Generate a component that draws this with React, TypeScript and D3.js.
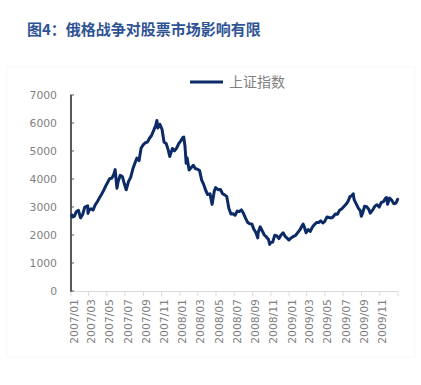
import React from "react";
import * as d3 from "d3";

const TITLE = "图4：俄格战争对股票市场影响有限";
const SERIES_NAME = "上证指数";
const Y_TICKS = [0, 1000, 2000, 3000, 4000, 5000, 6000, 7000];

const dates2007 = ["2007-01-04","2007-01-05","2007-01-12","2007-01-19","2007-01-26","2007-02-02","2007-02-09","2007-02-16","2007-02-26","2007-02-27","2007-03-02","2007-03-09","2007-03-16","2007-03-23","2007-03-30","2007-04-06","2007-04-13","2007-04-20","2007-04-27","2007-05-11","2007-05-18","2007-05-25","2007-05-29","2007-06-01","2007-06-04","2007-06-08","2007-06-15","2007-06-22","2007-06-29","2007-07-05","2007-07-13","2007-07-20","2007-07-27","2007-08-03","2007-08-10","2007-08-17","2007-08-24","2007-08-31","2007-09-07","2007-09-14","2007-09-21","2007-09-28","2007-10-12","2007-10-16","2007-10-19","2007-10-26","2007-11-02","2007-11-09","2007-11-16","2007-11-23","2007-11-28","2007-11-30","2007-12-07","2007-12-14","2007-12-21","2007-12-28"];
const values2007 = [2715,2641,2668,2833,2882,2612,2730,2998,3040,2771,2881,2937,2891,3071,3183,3323,3444,3584,3741,4021,4030,4181,4335,4000,3670,3913,4132,4091,3820,3615,3915,4058,4345,4560,4749,4656,5107,5219,5293,5317,5456,5552,5913,6092,5818,5955,5777,5316,5269,5032,4803,4871,5091,5007,5101,5261];

const dates2008 = ["2008-01-04","2008-01-11","2008-01-14","2008-01-18","2008-01-22","2008-01-25","2008-02-01","2008-02-15","2008-02-22","2008-02-29","2008-03-07","2008-03-14","2008-03-21","2008-03-28","2008-04-03","2008-04-11","2008-04-18","2008-04-25","2008-04-30","2008-05-09","2008-05-16","2008-05-23","2008-05-30","2008-06-06","2008-06-13","2008-06-20","2008-06-27","2008-07-04","2008-07-11","2008-07-18","2008-07-25","2008-08-01","2008-08-08","2008-08-15","2008-08-22","2008-08-29","2008-09-05","2008-09-12","2008-09-18","2008-09-19","2008-09-26","2008-10-10","2008-10-17","2008-10-24","2008-10-28","2008-10-31","2008-11-07","2008-11-14","2008-11-21","2008-11-28","2008-12-05","2008-12-12","2008-12-19","2008-12-26","2008-12-31"];
const values2008 = [5362,5485,5497,5180,4560,4761,4320,4490,4370,4348,4300,3962,3796,3580,3446,3470,3094,3557,3693,3614,3624,3474,3433,3379,2957,2748,2760,2704,2855,2836,2896,2775,2605,2450,2405,2397,2202,2079,1895,2075,2293,2000,1930,1840,1664,1728,1747,1994,1970,1871,2001,2078,1947,1880,1821];

const dates2009 = ["2009-01-09","2009-01-16","2009-01-23","2009-02-06","2009-02-13","2009-02-17","2009-02-20","2009-02-27","2009-03-06","2009-03-13","2009-03-20","2009-03-27","2009-04-03","2009-04-10","2009-04-17","2009-04-24","2009-04-30","2009-05-08","2009-05-15","2009-05-22","2009-05-27","2009-06-05","2009-06-12","2009-06-19","2009-06-26","2009-07-03","2009-07-10","2009-07-17","2009-07-24","2009-07-31","2009-08-04","2009-08-07","2009-08-14","2009-08-21","2009-08-28","2009-08-31","2009-09-04","2009-09-11","2009-09-18","2009-09-25","2009-09-30","2009-10-09","2009-10-16","2009-10-23","2009-10-30","2009-11-06","2009-11-13","2009-11-20","2009-11-24","2009-11-27","2009-12-04","2009-12-11","2009-12-18","2009-12-25","2009-12-31"];
const values2009 = [1904,1954,1990,2181,2320,2389,2320,2082,2193,2128,2281,2374,2444,2445,2503,2429,2477,2645,2625,2610,2632,2751,2743,2880,2928,3008,3088,3189,3372,3412,3471,3261,3113,2960,2860,2667,2768,3027,3008,2919,2779,2910,3036,3080,2996,3164,3187,3309,3338,3096,3316,3238,3114,3141,3277];

const parse = d3.timeParse("%Y-%m-%d");
const data = [
  ...dates2007.map((d, i) => ({ date: parse(d)!, value: values2007[i] })),
  ...dates2008.map((d, i) => ({ date: parse(d)!, value: values2008[i] })),
  ...dates2009.map((d, i) => ({ date: parse(d)!, value: values2009[i] })),
];

export default function App() {
  const W = 421, H = 385;
  const x = d3.scaleTime().domain([new Date(2007, 0, 1), new Date(2010, 0, 1)]).range([71, 398]);
  const y = d3.scaleLinear().domain([0, 7000]).range([291, 95]);
  const line = d3.line<{ date: Date; value: number }>().x(d => x(d.date)).y(d => y(d.value));
  const ticks = d3.timeMonth.every(2)!.range(new Date(2007, 0, 1), new Date(2010, 0, 2));
  const fmt = d3.timeFormat("%Y/%m");
  const navy = "#0c2a66";
  const gray = "#7f7f7f";
  const axFont = "'DejaVu Sans', sans-serif";
  return (
    <svg width={W} height={H} style={{ position: "absolute", left: 0, top: 0, background: "#fff" }}>
      <rect x={7} y={67} width={408} height={290} fill="none" stroke="#f8f8f8" strokeWidth={1} />
      <text x={27} y={35} fontFamily="'Noto Sans CJK SC', sans-serif" fontWeight="bold" fontSize={15} fill="#2e5394">{TITLE}</text>
      {/* legend */}
      <line x1={190} x2={223} y1={82} y2={82} stroke={navy} strokeWidth={3} />
      <text x={229} y={87} fontFamily="'Noto Sans CJK SC', sans-serif" fontSize={14} fill={gray}>{SERIES_NAME}</text>
      {/* x axis */}
      <line x1={71} x2={398} y1={291.5} y2={291.5} stroke="#d9d9d9" strokeWidth={1} />
      {ticks.map((t, i) => (
        <line key={"xt" + i} x1={x(t)} x2={x(t)} y1={291.5} y2={296} stroke="#d9d9d9" strokeWidth={1} />
      ))}
      {ticks.filter(t => t < new Date(2010, 0, 1)).map((t, i) => (
        <text key={"xl" + i} transform={`translate(${x(t) + 3},${299}) rotate(-90)`} textAnchor="end" dominantBaseline="central"
          fontFamily={axFont} fontSize={10.8} fill={gray}>{fmt(t)}</text>
      ))}
      {/* y axis */}
      <line x1={71} x2={71} y1={95} y2={291.5} stroke="#595959" strokeWidth={2} />
      {Y_TICKS.map(v => (
        <g key={"y" + v}>
          <line x1={70} x2={74} y1={y(v)} y2={y(v)} stroke="#595959" strokeWidth={1} />
          <text x={57} y={y(v)} textAnchor="end" dominantBaseline="central" fontFamily={axFont} fontSize={10.8} fill={gray}>{v}</text>
        </g>
      ))}
      <path d={line(data) || ""} fill="none" stroke={navy} strokeWidth={3} strokeLinejoin="round" strokeLinecap="round" />
    </svg>
  );
}
